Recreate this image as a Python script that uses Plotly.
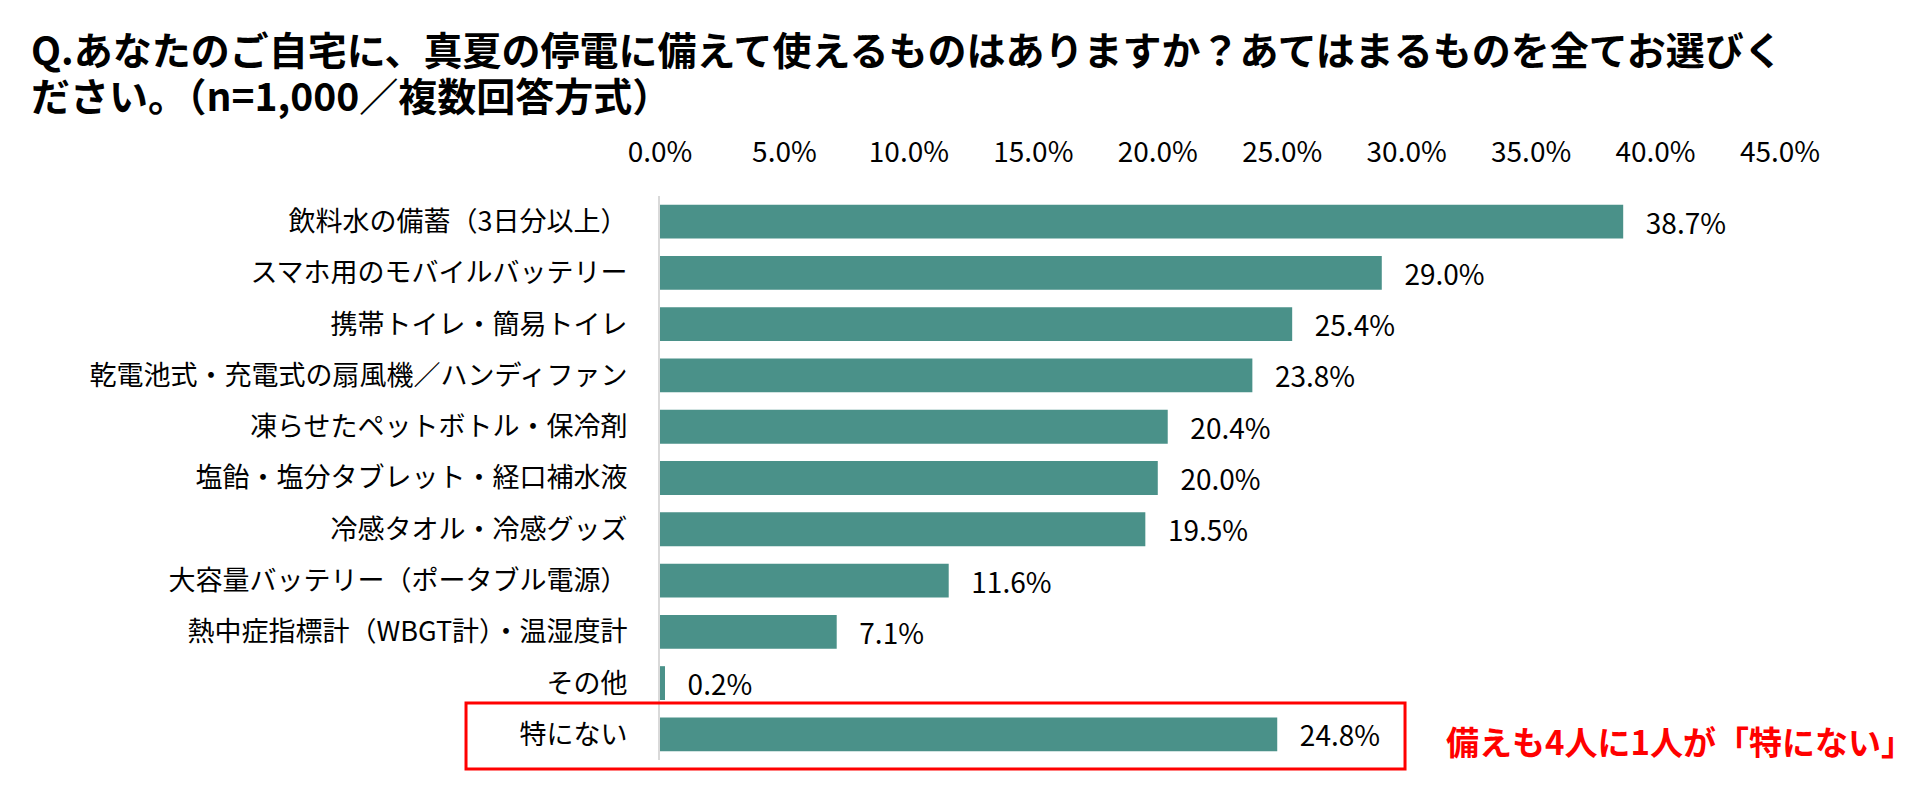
import plotly.graph_objects as go

# 回答データ（n=1,000／複数回答）
categories = [
    '飲料水の備蓄（3日分以上）',
    'スマホ用のモバイルバッテリー',
    '携帯トイレ・簡易トイレ',
    '乾電池式・充電式の扇風機／ハンディファン',
    '凍らせたペットボトル・保冷剤',
    '塩飴・塩分タブレット・経口補水液',
    '冷感タオル・冷感グッズ',
    '大容量バッテリー（ポータブル電源）',
    '熱中症指標計（WBGT計）・温湿度計',
    'その他',
    '特にない',
]
values = [38.7, 29.0, 25.4, 23.8, 20.4, 20.0, 19.5, 11.6, 7.1, 0.2, 24.8]
x_ticks = [0, 5, 10, 15, 20, 25, 30, 35, 40, 45]

title_lines = [
    'Q.あなたのご自宅に、真夏の停電に備えて使えるものはありますか？あてはまるものを全てお選びく',
    'ださい。（n=1,000／複数回答方式）',
]
note_text = '備えも4人に1人が「特にない」'

JP_FONT = 'Noto Sans CJK JP'
BAR_COLOR = '#4a9189'

bar = go.Bar(
    x=values,
    y=categories,
    orientation='h',
    marker=dict(color=BAR_COLOR, line=dict(width=0)),
    text=['\u2002\u2009' + f'{v:.1f}%' for v in values],
    textposition='outside',
    constraintext='none',
    textfont=dict(family=JP_FONT, size=28, color='#000000'),
    cliponaxis=False,
    hoverinfo='skip',
)

fig = go.Figure(bar)

fig.update_layout(
    width=1904,
    height=785,
    margin=dict(l=652, r=132, t=188, b=33),
    paper_bgcolor='white',
    plot_bgcolor='white',
    bargap=0.34,
    showlegend=False,
    font=dict(family=JP_FONT, color='#000000'),
)

# タイトル（2行、行間を詰めるため1行ずつ配置）
for line, y_px in zip(title_lines, [40, 86]):
    fig.add_annotation(
        text=line,
        xref='paper', yref='paper',
        x=(21 - 652) / 1120, y=1 + (188 - y_px) / 564,
        xanchor='left', yanchor='middle',
        showarrow=False,
        font=dict(family=JP_FONT, size=39, color='#000000', weight='bold'),
    )

fig.update_xaxes(
    range=[0, 45],
    tickvals=x_ticks,
    ticktext=[f'{t:.1f}%' for t in x_ticks],
    side='top',
    showgrid=False,
    zeroline=False,
    showline=False,
    ticks='',
    ticklabelstandoff=27,
    tickfont=dict(family=JP_FONT, size=28, color='#000000'),
)

fig.update_yaxes(
    categoryorder='array',
    categoryarray=categories,
    autorange='reversed',
    showgrid=False,
    zeroline=False,
    showline=True,
    linecolor='#d9d9d9',
    linewidth=2,
    ticks='',
    ticklabelstandoff=25,
    tickfont=dict(family=JP_FONT, size=27, color='#000000'),
)

# 「特にない」を囲む赤枠と注記
fig.add_shape(
    type='rect',
    xref='paper', yref='paper',
    x0=-0.1732, x1=0.6652, y0=-0.016, y1=0.101,
    line=dict(color='#ff0000', width=3),
    fillcolor='rgba(0,0,0,0)',
)
fig.add_annotation(
    text=note_text,
    xref='paper', yref='paper',
    x=0.700, y=0.0337,
    xanchor='left', yanchor='middle',
    showarrow=False,
    font=dict(family=JP_FONT, size=33, color='#ff0000', weight='bold'),
)

fig.write_html('out.html')
